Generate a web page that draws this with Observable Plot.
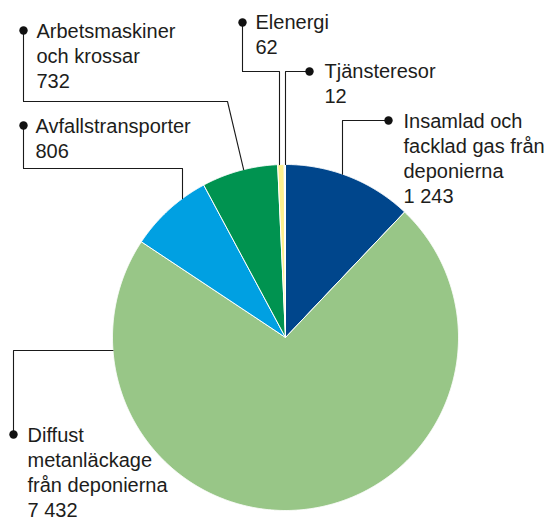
<!DOCTYPE html>
<html><head><meta charset="utf-8">
<script src="https://cdn.jsdelivr.net/npm/d3@7"></script>
<script src="https://cdn.jsdelivr.net/npm/@observablehq/plot@0.6"></script>
<style>html,body{margin:0;padding:0;background:#fff}</style>
</head><body><div id="chart"></div>
<script>
// ---- data ----
const categories = [
  "Insamlad och\nfacklad gas från\ndeponierna",
  "Diffust\nmetanläckage\nfrån deponierna",
  "Avfallstransporter",
  "Arbetsmaskiner\noch krossar",
  "Elenergi",
  "Tjänsteresor"
];
const values = [1243, 7432, 806, 732, 62, 12];
const colors = ["#00468c", "#98c687", "#00a0e2", "#009350", "#fdf08e", "#d6e6f3"];

// ---- layout (pixels) ----
const W = 547, H = 520;
const cx = 285, cy = 337, R = 173;
const fontSize = 20, lineH = 1.26;
const fmt = d3.formatLocale({decimal: ",", thousands: " ", grouping: [3], currency: ["", ""]}).format(",d");

const edgeYAt = x => cy - Math.sqrt(R * R - (x - cx) * (x - cx));
const edgeXAt = y => cx - Math.sqrt(R * R - (y - cy) * (y - cy));
const edgeAt = deg => { const a = deg * Math.PI / 180; return [cx + R * Math.sin(a), cy - R * Math.cos(a)]; };

// label anchor positions (text x, first baseline) and leader-line routes
const layout = [
  {tx: 403, base: 127, route: [[388, 120], [342, 120], [342, edgeYAt(342)]]},
  {tx: 27, base: 441, route: [[13, 434], [13, 350], [edgeXAt(350), 350]]},
  {tx: 35, base: 132, route: [[23, 125], [23, 168], [182, 168], [182, edgeYAt(182)]]},
  {tx: 36, base: 37, route: [[23, 30], [23, 101], [227, 101], edgeAt(346)]},
  {tx: 255, base: 28, route: [[242, 22], [242, 71], [279, 71], [279, edgeYAt(279)]]},
  {tx: 324, base: 77, route: [[309, 71], [285, 71], [285, edgeYAt(285)]]}
];

const data = categories.map((name, i) => ({name, value: values[i]}));
const arcs = d3.pie().sort(null).value(d => d.value)(data);

const slicePts = [];
arcs.forEach(a => {
  const name = a.data.name;
  slicePts.push({name, x: cx, y: cy});
  const n = Math.max(2, Math.ceil((a.endAngle - a.startAngle) / (Math.PI / 720)));
  for (let k = 0; k <= n; k++) {
    const t = a.startAngle + (a.endAngle - a.startAngle) * k / n;
    slicePts.push({name, x: cx + R * Math.sin(t), y: cy - R * Math.cos(t)});
  }
  slicePts.push({name, x: cx, y: cy});
});

const leaderPts = [];
const dots = [];
const labels = [];
data.forEach((d, i) => {
  const L = layout[i];
  L.route.forEach(([x, y]) => leaderPts.push({name: d.name, x, y}));
  dots.push({x: L.route[0][0], y: L.route[0][1]});
  // Plot places the first line's baseline 0.71 * lineHeight em below y for lineAnchor "top"
  labels.push({x: L.tx, y: L.base - 0.71 * lineH * fontSize, text: d.name + "\n" + fmt(d.value)});
});

const chart = Plot.plot({
  width: W, height: H, margin: 0,
  style: {fontFamily: "'Liberation Sans', Arial, sans-serif", background: "#fff"},
  x: {domain: [0, W], range: [0, W], axis: null},
  y: {domain: [0, H], range: [0, H], axis: null},
  color: {domain: categories, range: colors},
  marks: [
    Plot.line(slicePts, {x: "x", y: "y", z: "name", fill: "name", stroke: "white", strokeWidth: 1, strokeLinejoin: "round", curve: "linear"}),
    Plot.line(leaderPts, {x: "x", y: "y", z: "name", stroke: "#1a1a1a", strokeWidth: 1.1, curve: "linear"}),
    Plot.dot(dots, {x: "x", y: "y", r: 4.2, fill: "#111", stroke: "none"}),
    Plot.text(labels, {x: "x", y: "y", text: "text", textAnchor: "start", lineAnchor: "top", lineHeight: lineH, fontSize: fontSize, fill: "#1d1d1b", fontFamily: "'Liberation Sans', Arial, sans-serif"})
  ]
});
document.getElementById("chart").appendChild(chart);
</script>
</body></html>
